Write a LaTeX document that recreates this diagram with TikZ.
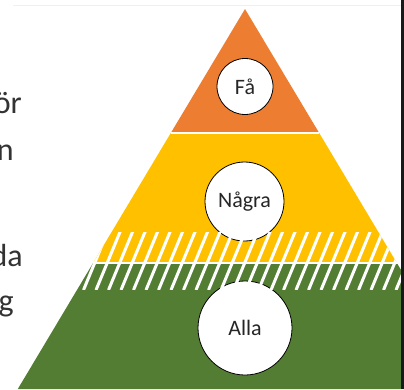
\documentclass[tikz,border=0pt]{standalone}
\usepackage{xcolor}
\usepackage{fontspec}
\setmainfont{Carlito}
\usepackage{tikz}
\usetikzlibrary{calc}
\definecolor{topfill}{HTML}{ED7D31}
\definecolor{midfill}{HTML}{FFC000}
\definecolor{basefill}{RGB}{82,125,51}
\tikzstyle{level} = [circle, draw=black, line width=0.8pt, fill=white, inner sep=0, text=black!85, font=\fontsize{22}{26}\selectfont]
\tikzstyle{side} = [draw=none, inner sep=0, anchor=base east, text=black!80, font=\fontsize{32}{38}\selectfont]
\tikzstyle{stripe} = [white, line width=3pt]
\tikzstyle{gap} = [white, line width=1.5pt]

\begin{document}
\begin{tikzpicture}[x=1pt, y=-1pt]
\useasboundingbox (0,0) rectangle (404,389);
\clip (0,0) rectangle (404,389);
\draw [black!6] (13,5.5) -- (401,5.5);
% pyramid bands
\fill [basefill] (93.1,263) -- (396.9,263) -- (472.2,389) -- (17.8,389) -- cycle;
\fill [midfill] (170.8,133) -- (319.2,133) -- (396.9,263) -- (93.1,263) -- cycle;
\fill [topfill] (245,9) -- (319.2,133) -- (170.8,133) -- cycle;
\draw [gap] (170.8,133) -- (319.2,133);
\draw [gap] (93.1,263) -- (410,263);
% levels
\node [level, minimum size=56pt] (fa) at (245,86.5) {Få};
\node [level, minimum size=79pt] (nagra) at (244.5,201.5) {Några};
\node [level, minimum size=94pt] (alla) at (245,328) {Alla};
% hatched band
\begin{scope}
\clip (245,9) -- (472.2,389) -- (17.8,389) -- cycle;
\clip (0,232) rectangle (404,289);
\foreach \i in {-6,...,25}
  \draw [stripe] (96+\i*12.5, 290) -- ++(24.4,-59);
\end{scope}
% cut text on the left
\node [side] (t1) at (22,113) {ör};
\node [side] (t2) at (14,160) {n};
\node [side] (t3) at (23,266) {da};
\node [side] (t4) at (14,311) {g};
\fill [black!90] (401,0) rectangle (404,389);
\end{tikzpicture}
\end{document}
